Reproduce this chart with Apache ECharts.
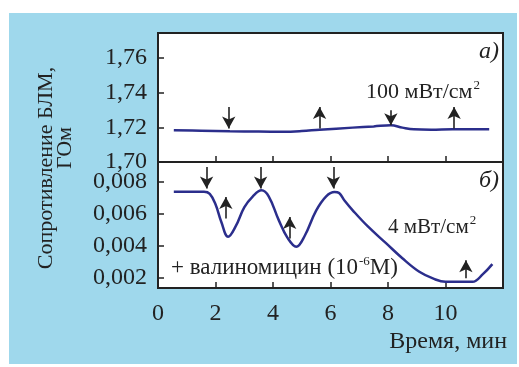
<!DOCTYPE html>
<html><head><meta charset="utf-8">
<script src="https://cdn.jsdelivr.net/npm/echarts@6/dist/echarts.min.js"></script>
<style>html,body{margin:0;padding:0;background:#fff}#c{width:519px;height:367px}</style>
</head><body><div id="c"></div>
<script>
// Panel a) : time (min) and resistance (GOhm) at 100 mW/cm2
var topTime = [0.55, 1.5, 2.5, 3.5, 4.35, 5.0, 5.62, 6.77, 7.5, 8.1, 8.5, 8.9, 9.5, 10.24, 11.0, 11.52];
var topValues = [1.7183, 1.7180, 1.7177, 1.7175, 1.7174, 1.7178, 1.7186, 1.7198, 1.7205, 1.7212, 1.7198, 1.7188, 1.7186, 1.7188, 1.7188, 1.7188];
// Panel б) : time (min) and resistance (GOhm) at 4 mW/cm2 + valinomycin
var botTime = [0.55, 1.0, 1.6, 1.8, 2.0, 2.2, 2.44, 2.7, 3.0, 3.3, 3.6, 3.85, 4.2, 4.5, 4.81, 5.1, 5.5, 5.85, 6.14, 6.3, 6.5, 6.78, 7.3, 7.93, 8.5, 9.09, 9.6, 10.0, 10.5, 10.94, 11.3, 11.63];
var botValues = [0.00738, 0.00738, 0.00738, 0.00725, 0.0066, 0.0055, 0.00455, 0.0052, 0.0064, 0.0071, 0.00748, 0.0071, 0.0056, 0.0045, 0.00392, 0.0046, 0.0062, 0.0071, 0.00737, 0.0073, 0.0068, 0.0062, 0.0052, 0.00415, 0.0032, 0.00235, 0.0019, 0.00172, 0.00172, 0.00172, 0.0022, 0.00283];
// Arrows: [time, from value, to value]
var topArrows = [[2.46, 1.7317, 1.7193], [5.62, 1.7193, 1.7317], [8.1, 1.7298, 1.7212], [10.3, 1.7193, 1.7317]];
var botArrows = [[1.69, 0.00894, 0.00759], [2.36, 0.00570, 0.00706], [3.57, 0.00894, 0.00759], [4.58, 0.00445, 0.00580], [6.1, 0.00894, 0.00759], [10.71, 0.00194, 0.00308]];
// Tick labels
var xTicks = [0, 2, 4, 6, 8, 10];
var xMinor = [2, 4, 6, 8, 10];
var topTicks = [1.70, 1.72, 1.74, 1.76];
var botTicks = [0.002, 0.004, 0.006, 0.008];

var serif = "'Liberation Serif', 'Times New Roman', Times, serif";
var ink = '#222';
var lineColor = '#2b2e8c';

function zip(a, b) { return a.map(function (v, i) { return [v, b[i]]; }); }
function arrows(list) {
  return list.map(function (a) { return [{ coord: [a[0], a[1]] }, { coord: [a[0], a[2]] }]; });
}
function txt(x, y, text, size, extra) {
  return Object.assign({ type: 'text', x: x, y: y, z: 10, style: { text: text, fontFamily: serif, fontSize: size, fill: ink, align: 'left', verticalAlign: 'middle' } }, extra || {});
}

var chart = echarts.init(document.getElementById('c'), null, { renderer: 'canvas' });
var commonX = {
  type: 'value', min: 0, max: 12,
  axisLine: { show: false },
  axisTick: { show: true, inside: true, length: 6, lineStyle: { color: ink, width: 1.5 }, customValues: xMinor },
  splitLine: { show: false }
};
var g = [
  { type: 'rect', shape: { x: 9, y: 13, width: 508, height: 351 }, style: { fill: '#9fd8ec' }, z: -10 }
];
var t1 = txt(46, 168, 'Сопротивление БЛМ,', 22, { rotation: Math.PI / 2 }); t1.style.align = 'center'; g.push(t1);
var t2 = txt(65, 148, 'ГОм', 22, { rotation: Math.PI / 2 }); t2.style.align = 'center'; g.push(t2);
var t3 = txt(507, 342, 'Время, мин', 24); t3.style.align = 'right'; g.push(t3);
var t4 = txt(499, 52, 'а)', 24); t4.style.align = 'right'; t4.style.fontStyle = 'italic'; g.push(t4);
var t5 = txt(499, 181, 'б)', 24); t5.style.align = 'right'; t5.style.fontStyle = 'italic'; g.push(t5);
function richTxt(x, y, text, size) {
  return { type: 'text', x: x, y: y, z: 10, style: { text: text, verticalAlign: 'middle',
    rich: { a: { fontFamily: serif, fontSize: size, fill: ink }, s: { fontFamily: serif, fontSize: 13, fill: ink, padding: [0, 0, 12, 1] } } } };
}
g.push(richTxt(366, 92, '{a|100 мВт/см}{s|2}', 22));
g.push(richTxt(388, 227, '{a|4 мВт/см}{s|2}', 21));
g.push(richTxt(171, 268, '{a|+ валиномицин (10}{s|-6}{a|М)}', 23));

var option = {
  backgroundColor: '#fff',
  animation: false,
  textStyle: { fontFamily: serif },
  graphic: g,
  grid: [
    { left: 158, top: 33, width: 345, height: 129, show: true, backgroundColor: '#fff', borderColor: ink, borderWidth: 2 },
    { left: 158, top: 162, width: 345, height: 126, show: true, backgroundColor: '#fff', borderColor: ink, borderWidth: 2 }
  ],
  xAxis: [
    Object.assign({}, commonX, { gridIndex: 0, axisLabel: { show: false } }),
    Object.assign({}, commonX, { gridIndex: 1, axisLabel: { show: true, customValues: xTicks, margin: 14, fontFamily: serif, fontSize: 24, color: ink } })
  ],
  yAxis: [
    { type: 'value', gridIndex: 0, min: 1.70, max: 1.7743, axisLine: { show: false }, splitLine: { show: false },
      axisTick: { show: true, inside: true, length: 6, lineStyle: { color: ink, width: 1.5 }, customValues: topTicks },
      axisLabel: { customValues: topTicks, margin: 11, fontFamily: serif, fontSize: 24, color: ink, formatter: function (v) { return v.toFixed(2).replace('.', ','); } } },
    { type: 'value', gridIndex: 1, min: 0.00133, max: 0.009255, axisLine: { show: false }, splitLine: { show: false },
      axisTick: { show: true, inside: true, length: 6, lineStyle: { color: ink, width: 1.5 }, customValues: botTicks },
      axisLabel: { customValues: botTicks, margin: 11, fontFamily: serif, fontSize: 24, color: ink, formatter: function (v) { return v.toFixed(3).replace('.', ','); } } }
  ],
  series: [
    { type: 'line', xAxisIndex: 0, yAxisIndex: 0, data: zip(topTime, topValues), smooth: 0.4, showSymbol: false, lineStyle: { color: lineColor, width: 2.5 },
      markLine: { silent: true, symbol: ['none', 'arrow'], symbolSize: [10, 12], label: { show: false }, lineStyle: { color: ink, width: 1.6, type: 'solid' }, data: arrows(topArrows) } },
    { type: 'line', xAxisIndex: 1, yAxisIndex: 1, data: zip(botTime, botValues), smooth: 0.4, showSymbol: false, lineStyle: { color: lineColor, width: 2.5 },
      markLine: { silent: true, symbol: ['none', 'arrow'], symbolSize: [10, 12], label: { show: false }, lineStyle: { color: ink, width: 1.6, type: 'solid' }, data: arrows(botArrows) } }
  ]
};
chart.setOption(option);
</script></body></html>
